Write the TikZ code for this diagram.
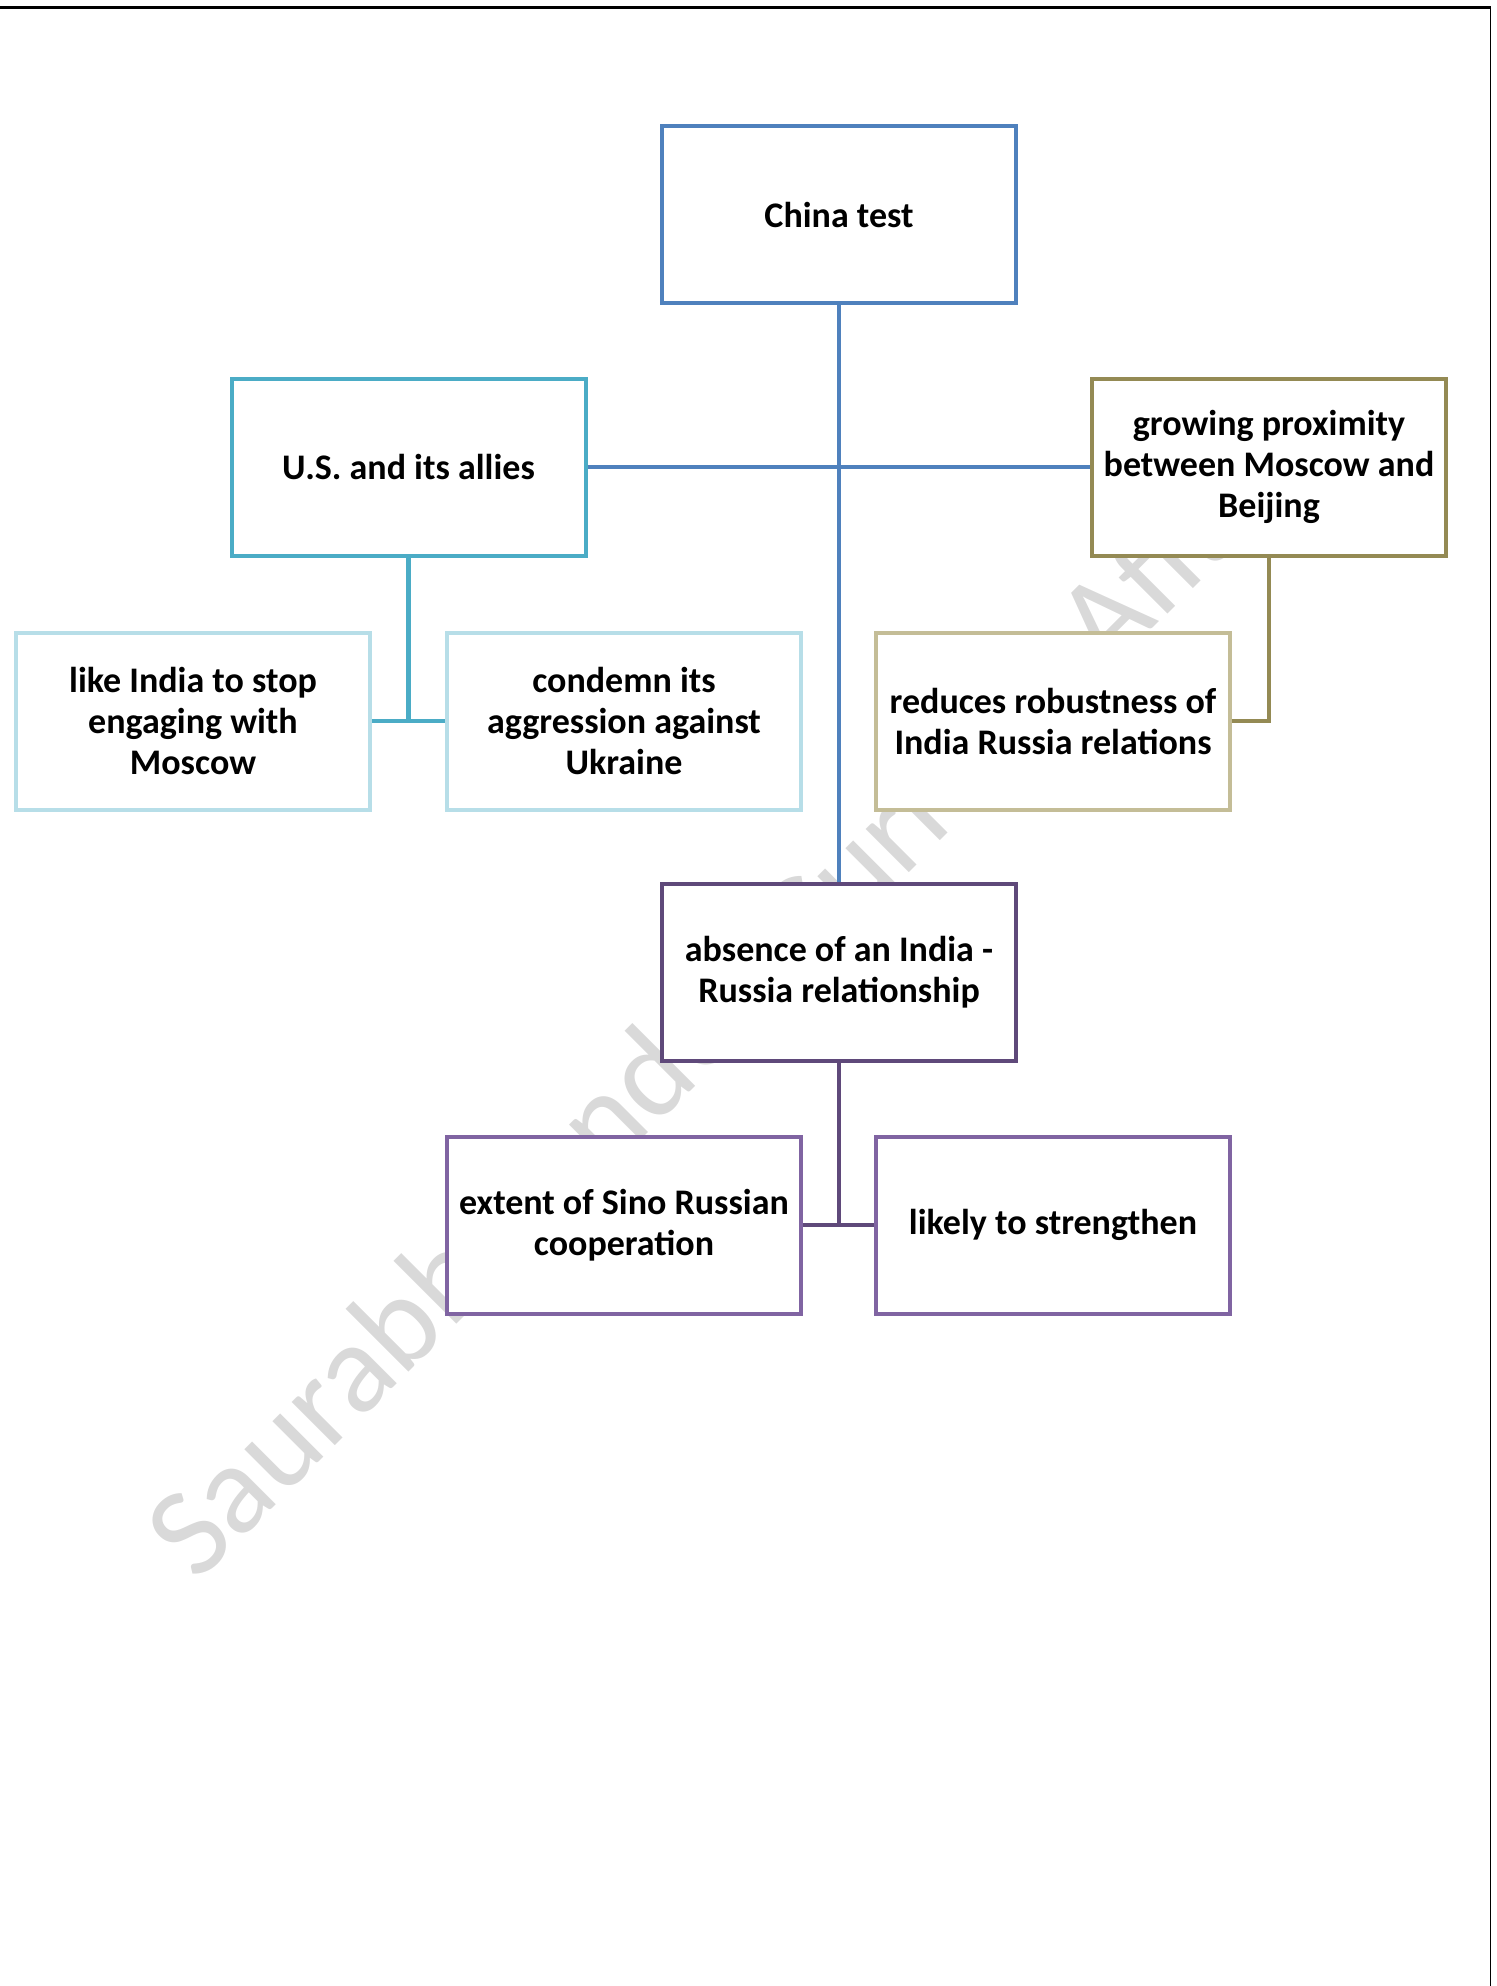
\documentclass[tikz,border=0pt]{standalone}
\usepackage{fontspec}
\setmainfont{Carlito}
\usepackage{xcolor}
\usepackage{tikz}

\definecolor{bluebox}{HTML}{4F81BD}
\definecolor{tealbox}{HTML}{4BACC6}
\definecolor{paleteal}{HTML}{B7DEE8}
\definecolor{olivebox}{HTML}{948A54}
\definecolor{tanbox}{HTML}{C4BD97}
\definecolor{darkpurple}{HTML}{5F497A}
\definecolor{purplebox}{HTML}{8064A2}

\begin{document}
\begin{tikzpicture}[x=0.5pt, y=-0.5pt,
  box/.style={draw, line width=2pt, fill=white, minimum width=177pt, minimum height=88.5pt,
    align=center, inner sep=0pt, font=\bfseries\fontsize{18}{20.5}\selectfont},
  wire/.style={line width=2.2pt}]
  \useasboundingbox (0,0) rectangle (1496,1986);
  % page frame
  \draw[line width=1.5pt] (0,7) -- (1490.5,7);
  \draw[line width=0.75pt] (1490.5,7) -- (1490.5,1986);
  % watermark
  \node[rotate=45, text=black!15, font=\fontsize{64}{64}\selectfont] (mark) at (745,988) {Saurabh Pandey Current Affairs};
  \node[box, draw=bluebox] (china) at (839,214.5) {China test};
  \node[box, draw=tealbox] (us) at (408.5,467) {U.S. and its allies};
  \node[box, draw=olivebox] (grow) at (1269,467) {growing proximity\\between Moscow and\\Beijing};
  \node[box, draw=paleteal] (like) at (193,721) {like India to stop\\engaging with\\Moscow};
  \node[box, draw=paleteal] (condemn) at (624,721) {condemn its\\aggression against\\Ukraine};
  \node[box, draw=tanbox] (reduce) at (1053,721) {reduces robustness of\\India Russia relations};
  \node[box, draw=darkpurple] (absence) at (839,972) {absence of an India -\\Russia relationship};
  \node[box, draw=purplebox] (extent) at (624,1225) {extent of Sino Russian\\cooperation};
  \node[box, draw=purplebox] (likely) at (1053,1225) {likely to strengthen};
  % connectors
  \draw[wire, bluebox] (china.south) -- (absence.north);
  \draw[wire, bluebox] (us.east) -- (grow.west);
  \draw[wire, tealbox] (us.south) -- (us.south |- like.east);
  \draw[wire, tealbox] (like.east) -- (condemn.west);
  \draw[wire, olivebox] (grow.south) |- (reduce.east);
  \draw[wire, darkpurple] (absence.south) -- (absence.south |- extent.east);
  \draw[wire, darkpurple] (extent.east) -- (likely.west);
\end{tikzpicture}
\end{document}
